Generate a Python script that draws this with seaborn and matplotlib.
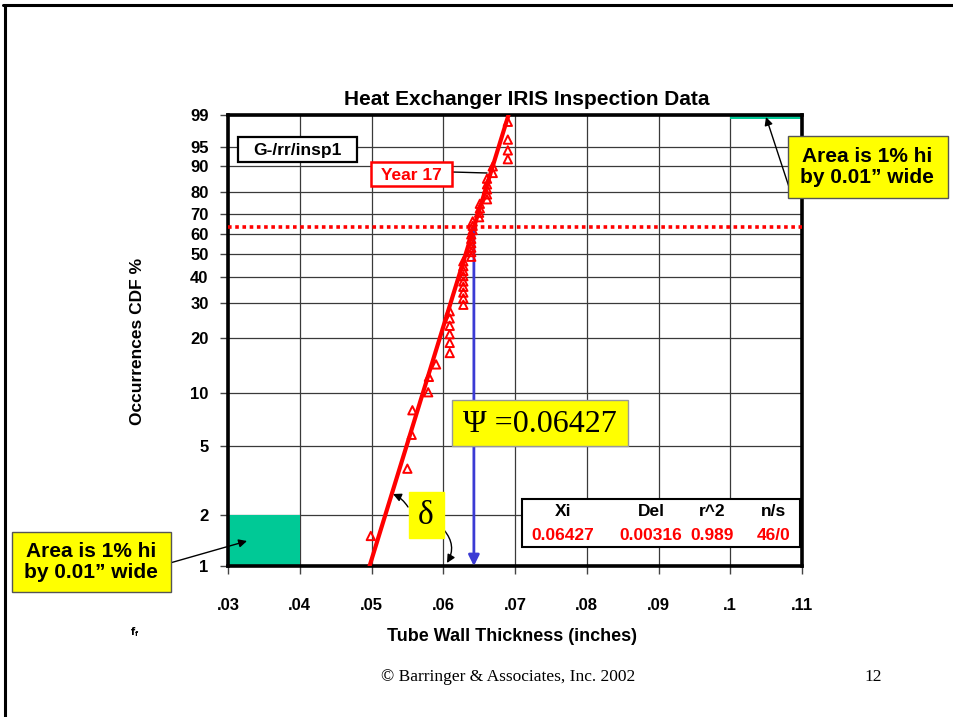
import numpy as np
import matplotlib
matplotlib.use("Agg")
import matplotlib.pyplot as plt
import seaborn as sns
from matplotlib.patches import Rectangle
from matplotlib.lines import Line2D
from matplotlib.ticker import NullLocator

# ---------------- data ----------------
thickness = [0.0499, 0.0550, 0.0556, 0.0557, 0.0579, 0.0580, 0.0590,
             0.0609, 0.0609, 0.0609, 0.0609, 0.0609, 0.0609,
             0.0628, 0.0628, 0.0628, 0.0628, 0.0628, 0.0628, 0.0628, 0.0628, 0.0628,
             0.0639, 0.0639, 0.0639, 0.0639, 0.0639, 0.0639,
             0.0641, 0.0641, 0.0641,
             0.0650, 0.0650, 0.0651, 0.0651,
             0.0661, 0.0661, 0.0661, 0.0661, 0.0661,
             0.0669, 0.0669,
             0.0690, 0.0690, 0.0690, 0.0690]
cdf_pct = [1.5, 3.7, 5.8, 8.0, 10.1, 12.3, 14.4, 16.6, 18.8, 20.9, 23.1, 25.2,
           27.4, 29.5, 31.7, 33.8, 36.0, 38.1, 40.3, 42.5, 44.6, 46.8, 48.9, 51.1,
           53.2, 55.4, 57.5, 59.7, 61.9, 64.0, 66.2, 68.3, 70.5, 72.6, 74.8, 76.9,
           79.1, 81.3, 83.4, 85.6, 87.7, 89.9, 92.0, 94.2, 96.3, 98.5]
xi = 0.06427
delta = 0.00316
r2 = 0.989
ns = "46/0"
char_pct = 63.2
fit_pct = [1, 99]
x_ticks = [0.03, 0.04, 0.05, 0.06, 0.07, 0.08, 0.09, 0.10, 0.11]
x_labels = [".03", ".04", ".05", ".06", ".07", ".08", ".09", ".1", ".11"]
y_ticks = [1, 2, 5, 10, 20, 30, 40, 50, 60, 70, 80, 90, 95, 99]
y_labels = [str(v) for v in y_ticks]

# ---------------- style ----------------
sns.set_theme(style="white")
plt.rcParams["font.family"] = ["Liberation Sans", "DejaVu Sans"]
plt.rcParams.update({"text.color": "black", "axes.labelcolor": "black",
                     "xtick.color": "black", "ytick.color": "black"})
SERIF = ["Liberation Serif", "DejaVu Serif"]
W, H = 954, 717
fig = plt.figure(figsize=(W / 100, H / 100), dpi=100)
fig.patch.set_facecolor("white")
ax = fig.add_axes([228 / W, 1 - 566 / H, 574 / W, 451 / H])


def fwd(p):
    p = np.clip(np.asarray(p, dtype=float), 1e-6, 100 - 1e-6)
    return np.log(-np.log(1 - p / 100.0))


def inv(t):
    return 100.0 * (1 - np.exp(-np.exp(np.asarray(t, dtype=float))))


ax.set_yscale("function", functions=(fwd, inv))
ax.set_xlim(0.03, 0.11)
ax.set_ylim(1, 99)
ax.set_xticks(x_ticks)
ax.set_xticklabels(x_labels, fontweight="bold", fontsize=12, color="black")
ax.set_yticks(y_ticks)
ax.set_yticklabels(y_labels, fontweight="bold", fontsize=12, color="black")
ax.xaxis.set_minor_locator(NullLocator())
ax.yaxis.set_minor_locator(NullLocator())
ax.grid(True, color="#3a3a3a", lw=0.9)
ax.set_axisbelow(True)
ax.tick_params(axis="both", bottom=True, left=True, direction="out",
               length=6, width=1, color="#444444")
ax.tick_params(axis="x", pad=17)
ax.tick_params(axis="y", pad=8)
for s in ax.spines.values():
    s.set_color("black")
    s.set_linewidth(2.6)

# green 1% x 0.01" areas
ax.add_patch(Rectangle((0.03, 1), 0.01, 1, facecolor="#00C996", edgecolor="none", zorder=1.5))
ax.add_patch(Rectangle((0.10, 98.7), 0.01, 0.3, facecolor="#00C996", edgecolor="none", zorder=1.5))

# fit line
fit_x = xi + delta * fwd(fit_pct)
sns.lineplot(x=fit_x, y=fit_pct, color="red", lw=3, ax=ax, sort=False, zorder=3)

# data points
sns.scatterplot(x=thickness, y=cdf_pct, marker="^", s=36, facecolor="none",
                edgecolor="red", linewidth=1.4, ax=ax, zorder=4)

# characteristic value lines
ax.axhline(char_pct, color="red", lw=2.6, ls=(0, (1, 1)), zorder=3)
ax.annotate("", xy=(xi, 1), xytext=(xi, char_pct),
            arrowprops=dict(arrowstyle="-|>", color="#3b3bd4", lw=2,
                            mutation_scale=16, shrinkA=0, shrinkB=0), zorder=3)

ax.set_title("Heat Exchanger IRIS Inspection Data", fontsize=15,
             fontweight="bold", x=0.521, pad=7, color="black")
ax.set_xlabel("Tube Wall Thickness (inches)", fontsize=13, fontweight="bold")
ax.xaxis.set_label_coords((512 - 228) / 574, -0.137)
ax.set_ylabel("Occurrences CDF %", fontsize=12.5, fontweight="bold")
ax.yaxis.set_label_coords(-0.145, 0.497)


# ---------------- annotations (figure pixel positions from top-left) ----------------
def fp(x, y):
    return (x / W, 1 - y / H)


def box(x0, y0, x1, y1, fc, ec, lw):
    fig.add_artist(Rectangle((x0 / W, 1 - y1 / H), (x1 - x0) / W, (y1 - y0) / H,
                             transform=fig.transFigure, fc=fc, ec=ec, lw=lw, zorder=2))


def arrow(x0, y0, x1, y1, rad=0.0, lw=1.0, head=True):
    ax.annotate("", xy=(x1, H - y1), xycoords="figure pixels",
                xytext=(x0, H - y0), textcoords="figure pixels",
                arrowprops=dict(arrowstyle="-|>" if head else "-", color="black", lw=lw,
                                mutation_scale=12, shrinkA=0, shrinkB=0,
                                connectionstyle=f"arc3,rad={rad}"),
                annotation_clip=False)


box(238, 137, 357, 162, "white", "black", 1.6)
fig.text(*fp(297, 150), "G-/rr/insp1", ha="center", va="center", fontsize=12.5,
         fontweight="bold", color="black", zorder=3)
box(371, 162, 452, 186, "white", "red", 1.8)
fig.text(*fp(411, 175), "Year 17", ha="center", va="center", fontsize=12.5,
         fontweight="bold", color="red", zorder=3)
arrow(452, 172, 487, 173, head=False)

box(452, 400, 628, 446, "#FFFF00", "#999999", 1)
fig.text(*fp(540, 424), "\u03a8 =0.06427", ha="center", va="center", fontsize=23,
         family=SERIF, color="black", zorder=3)
box(409, 492, 444, 538, "#FFFF00", "#FFFF00", 1)
fig.text(*fp(426, 516), "\u03b4", ha="center", va="center", fontsize=24,
         family=SERIF, color="black", zorder=3)
arrow(408, 507, 393, 494, rad=0.15)
arrow(444, 530, 447, 563, rad=-0.35)

# table of results
box(522, 499, 800, 547, "white", "black", 1.5)
heads = ["Xi", "Del", "r^2", "n/s"]
vals = [f"{xi:.5f}", f"{delta:.5f}", f"{r2:.3f}", ns]
cols = [563, 651, 712, 774]
for cx, h_, v_ in zip(cols, heads, vals):
    fig.text(*fp(cx, 512), h_, ha="center", va="center", fontsize=12.5,
             fontweight="bold", color="black", zorder=3)
    fig.text(*fp(cx, 535), v_, ha="center", va="center", fontsize=12.5,
             fontweight="bold", color="red", zorder=3)

callout = "Area is 1% hi\nby 0.01\u201d wide"
box(788, 136, 948, 198, "#FFFF00", "#555555", 1)
fig.text(*fp(867, 167), callout, ha="center", va="center", fontsize=15,
         fontweight="bold", color="black", linespacing=1.15, zorder=3)
arrow(790, 190, 766, 117)
box(12, 532, 171, 592, "#FFFF00", "#555555", 1)
fig.text(*fp(91, 562), callout, ha="center", va="center", fontsize=15,
         fontweight="bold", color="black", linespacing=1.15, zorder=3)
arrow(170, 563, 247, 541)

fig.text(*fp(135, 632), r"$\mathbf{f_f}$", ha="center", va="center", fontsize=7)

fig.text(*fp(508, 677), "\u00a9 Barringer & Associates, Inc. 2002", ha="center",
         va="center", fontsize=12.5, family=SERIF)
fig.text(*fp(873, 677), "12", ha="center", va="center", fontsize=12.5, family=SERIF)

# slide frame
fig.add_artist(Line2D([3 / W, 1], [1 - 5 / H, 1 - 5 / H], transform=fig.transFigure,
                      color="black", lw=2.2))
fig.add_artist(Line2D([5 / W, 5 / W], [0, 1 - 5 / H], transform=fig.transFigure,
                      color="black", lw=2.2))

fig.savefig("out.png", dpi=100, facecolor="white")
